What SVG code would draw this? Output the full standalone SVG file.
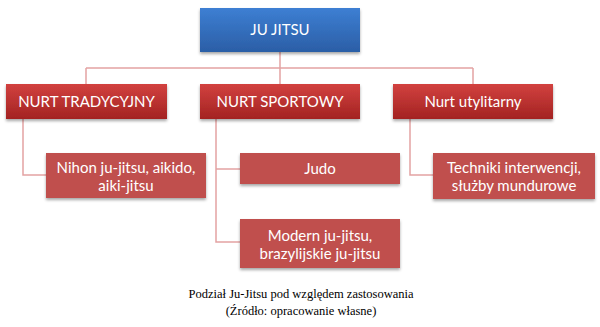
<svg xmlns="http://www.w3.org/2000/svg" width="600" height="327" viewBox="0 0 600 327">
<defs>
<linearGradient id="gBlue" x1="0" y1="0" x2="0" y2="1">
<stop offset="0" stop-color="#3d7fd3"/>
<stop offset="1" stop-color="#2b5ea6"/>
</linearGradient>
<linearGradient id="gRed" x1="0" y1="0" x2="0" y2="1">
<stop offset="0" stop-color="#d2413f"/>
<stop offset="1" stop-color="#a32322"/>
</linearGradient>
<filter id="sh" x="-10%" y="-20%" width="120%" height="150%">
<feDropShadow dx="0" dy="2" stdDeviation="1.5" flood-color="#000" flood-opacity="0.35"/>
</filter>
</defs>
<style>
.conn{fill:none;stroke:#e3a3a3;stroke-width:1.5}
.l1 rect{fill:url(#gRed);filter:url(#sh)}
.l2 rect{fill:#c0504d;filter:url(#sh)}
.t{font-family:Lato,"Open Sans","Liberation Sans",sans-serif;fill:#fff;text-anchor:middle}
.t1{font-size:15px}
.t2{font-size:15px}
.cap{font-family:"Liberation Serif",serif;font-size:12.5px;fill:#000;text-anchor:middle}
</style>
<rect width="600" height="327" fill="#fff"/>
<g id="connectors">
<path class="conn" d="M280 52V68M86 68H473M86 68V84M280 68V84M473 68V84"/>
<path class="conn" d="M23 119V175H46"/>
<path class="conn" d="M216 119V242H240M216 169H240"/>
<path class="conn" d="M410 119V175H433"/>
</g>
<g id="n-jujitsu">
<rect x="200" y="8" width="160" height="44" fill="url(#gBlue)" filter="url(#sh)"/>
<text class="t t1" x="280" y="35">JU JITSU</text>
</g>
<g id="n-trad" class="l1">
<rect x="6" y="84" width="161" height="35"/>
<text class="t t1" x="86.5" y="107">NURT TRADYCYJNY</text>
</g>
<g id="n-sport" class="l1">
<rect x="200" y="84" width="160" height="35"/>
<text class="t t1" x="280" y="107">NURT SPORTOWY</text>
</g>
<g id="n-util" class="l1">
<rect x="393" y="84" width="160" height="35"/>
<text class="t t1" x="473" y="107">Nurt utylitarny</text>
</g>
<g id="n-nihon" class="l2">
<rect x="46" y="153" width="160" height="45"/>
<text class="t t2" x="126" y="173">Nihon ju-jitsu, aikido,</text>
<text class="t t2" x="126" y="191">aiki-jitsu</text>
</g>
<g id="n-judo" class="l2">
<rect x="240" y="153" width="160" height="31"/>
<text class="t t2" x="320" y="174">Judo</text>
</g>
<g id="n-modern" class="l2">
<rect x="240" y="219" width="160" height="49"/>
<text class="t t2" x="320" y="241">Modern ju-jitsu,</text>
<text class="t t2" x="320" y="259">brazylijskie ju-jitsu</text>
</g>
<g id="n-techniki" class="l2">
<rect x="433" y="153" width="162" height="46"/>
<text class="t t2" x="514" y="173">Techniki interwencji,</text>
<text class="t t2" x="514" y="191">służby mundurowe</text>
</g>
<g id="caption">
<text class="cap" x="301" y="298">Podział Ju-Jitsu pod względem zastosowania</text>
<text class="cap" x="301" y="315">(Źródło: opracowanie własne)</text>
</g>
</svg>
